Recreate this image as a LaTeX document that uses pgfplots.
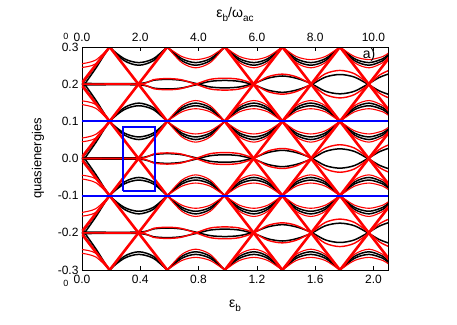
\documentclass[border=0pt]{standalone}
\usepackage{fontspec}
\setmainfont{Liberation Sans}
\usepackage{pgfplots}
\usepackage{pgfplotstable}
\pgfplotsset{compat=1.18}

\newcommand\sub[1]{\raisebox{-0.55ex}{\fontsize{10}{11}\selectfont #1}}

% eye-shaped bands around 0.1 (repeated every 0.2)
\pgfplotstableread{
x     k1     k2
0.0   0.200  0.210
0.095 0.150  0.157
0.19  0.100  0.100
0.29  0.0685 0.0633
0.39  0.058  0.051
0.49  0.0685 0.0633
0.585 0.100  0.100
0.685 0.1315 0.1368
0.78  0.142  0.149
0.88  0.1315 0.1368
0.98  0.100  0.100
1.08  0.0685 0.0633
1.18  0.058  0.051
1.275 0.0685 0.0633
1.375 0.100  0.100
1.47  0.1315 0.1368
1.57  0.142  0.149
1.67  0.1315 0.1368
1.77  0.100  0.100
1.87  0.0685 0.0633
1.97  0.058  0.051
2.065 0.0685 0.0633
2.1   0.0794 0.076
}\eyeblack

\pgfplotstableread{
x     r1     r2
0.0   0.145  0.155
0.095 0.135  0.145
0.19  0.100  0.100
}\eyeredleft

\pgfplotstableread{
x     r1     r2
0.585 0.100  0.100
0.685 0.1255 0.142
0.78  0.134  0.156
0.88  0.1255 0.142
0.98  0.100  0.100
1.08  0.0745 0.058
1.18  0.066  0.044
1.275 0.0745 0.058
1.375 0.100  0.100
1.47  0.1255 0.142
1.57  0.134  0.156
1.67  0.1255 0.142
1.77  0.100  0.100
1.87  0.0745 0.058
1.97  0.066  0.044
2.065 0.0745 0.058
2.1   0.0833 0.0726
}\eyered

% nearly flat bands around 0 (repeated every 0.2)
\pgfplotstableread{
x     f1      f2      g1      g2
0     0.002  -0.002   0       0
0.39  0.002  -0.002   0       0
0.49  0.0105 -0.0105  0.012  -0.012
0.585 0.013  -0.013   0.015  -0.015
0.68  0.0105 -0.0105  0.012  -0.012
0.78  0.002  -0.002   0       0
0.88 -0.0075  0.0075 -0.013   0.013
0.98 -0.010   0.010  -0.016   0.016
1.08 -0.0075  0.0075 -0.013   0.013
1.18  0.002  -0.002   0       0
1.275 0.016  -0.016   0.020  -0.020
1.375 0.022  -0.022   0.027  -0.027
1.47  0.016  -0.016   0.020  -0.020
1.57  0.002  -0.002   0       0
1.67 -0.019   0.019  -0.028   0.028
1.77 -0.026   0.026  -0.037   0.037
1.87 -0.019   0.019  -0.028   0.028
1.97  0.002  -0.002   0       0
2.04  0.018  -0.018   0.024  -0.024
2.1   0.027  -0.027   0.036  -0.036
}\flatband

\tikzset{
  blk/.style={black, line width=1.5pt, smooth},
  rdt/.style={red, line width=1.1pt, smooth},
  rdl/.style={red, line width=2.6pt},
  blu/.style={blue, line width=2pt},
}

\begin{document}
\begin{tikzpicture}
\useasboundingbox (-82pt,-54pt) rectangle (375pt,270pt);
\begin{axis}[
  scale only axis, width=306pt, height=223pt,
  xmin=0, xmax=2.1, ymin=-0.3, ymax=0.3,
  xtick={0,0.4,0.8,1.2,1.6,2.0},
  xticklabels={0.0,0.4,0.8,1.2,1.6,2.0},
  ytick={-0.3,-0.2,-0.1,0,0.1,0.2,0.3},
  yticklabels={-0.3,-0.2,-0.1,0.0,0.1,0.2,0.3},
  xtick pos=left, ytick pos=left,
  tick align=inside, major tick length=4pt,
  tick style={black, line width=0.5pt},
  axis line style={black, line width=0.6pt},
  tick label style={font=\fontsize{12}{14}\selectfont},
  xticklabel style={yshift=-2pt},
  xlabel={ε\sub{b}},
  ylabel={quasienergies},
  xlabel style={at={(axis description cs:0.5,-0.16)}, anchor=center, font=\fontsize{14}{16}\selectfont},
  ylabel style={at={(axis description cs:-0.144,0.5)}, anchor=center, rotate=0, font=\fontsize{13}{15}\selectfont},
]
\pgfplotsinvokeforeach{-2,-1,0,1,2}{
  \addplot[blk] table[x=x, y expr=\thisrow{k1}+0.2*(#1)] {\eyeblack};
  \addplot[blk] table[x=x, y expr=\thisrow{k2}+0.2*(#1)] {\eyeblack};
  \addplot[blk] table[x=x, y expr=-\thisrow{k1}+0.2*(#1)] {\eyeblack};
  \addplot[blk] table[x=x, y expr=-\thisrow{k2}+0.2*(#1)] {\eyeblack};
}
\pgfplotsinvokeforeach{-1,0,1}{
  \addplot[blk] table[x=x, y expr=\thisrow{f1}+0.2*(#1)] {\flatband};
  \addplot[blk] table[x=x, y expr=\thisrow{f2}+0.2*(#1)] {\flatband};
}
\pgfplotsinvokeforeach{-2,-1,0,1,2}{
  \addplot[rdt] table[x=x, y expr=\thisrow{r1}+0.2*(#1)] {\eyeredleft};
  \addplot[rdt] table[x=x, y expr=\thisrow{r2}+0.2*(#1)] {\eyeredleft};
  \addplot[rdt] table[x=x, y expr=-\thisrow{r1}+0.2*(#1)] {\eyeredleft};
  \addplot[rdt] table[x=x, y expr=-\thisrow{r2}+0.2*(#1)] {\eyeredleft};
  \addplot[rdt] table[x=x, y expr=\thisrow{r1}+0.2*(#1)] {\eyered};
  \addplot[rdt] table[x=x, y expr=\thisrow{r2}+0.2*(#1)] {\eyered};
  \addplot[rdt] table[x=x, y expr=-\thisrow{r1}+0.2*(#1)] {\eyered};
  \addplot[rdt] table[x=x, y expr=-\thisrow{r2}+0.2*(#1)] {\eyered};
}
\pgfplotsinvokeforeach{-1,0,1}{
  \addplot[rdt, line width=1.4pt] table[x=x, y expr=\thisrow{g1}+0.2*(#1)] {\flatband};
  \addplot[rdt, line width=1.4pt] table[x=x, y expr=\thisrow{g2}+0.2*(#1)] {\flatband};
}
% straight red crossing lines, left part
\addplot[rdl] coordinates {(0,-0.596)(0.585,-0.3)};
\addplot[rdl] coordinates {(0,-0.396)(0.585,-0.1)};
\addplot[rdl] coordinates {(0,-0.196)(0.585,0.1)};
\addplot[rdl] coordinates {(0,0.004)(0.585,0.3)};
\addplot[rdl] coordinates {(0,0.204)(0.585,0.5)};
\addplot[rdl] coordinates {(0,-0.204)(0.585,-0.5)};
\addplot[rdl] coordinates {(0,-0.004)(0.585,-0.3)};
\addplot[rdl] coordinates {(0,0.196)(0.585,-0.1)};
\addplot[rdl] coordinates {(0,0.396)(0.585,0.1)};
\addplot[rdl] coordinates {(0,0.596)(0.585,0.3)};
% straight red crossing lines, right part
\addplot[rdl] coordinates {(0.98,-0.7)(2.1,-0.133)};
\addplot[rdl] coordinates {(0.98,-0.5)(2.1,0.067)};
\addplot[rdl] coordinates {(0.98,-0.3)(2.1,0.267)};
\addplot[rdl] coordinates {(0.98,-0.1)(2.1,0.467)};
\addplot[rdl] coordinates {(0.98,0.1)(2.1,0.667)};
\addplot[rdl] coordinates {(0.98,-0.1)(2.1,-0.667)};
\addplot[rdl] coordinates {(0.98,0.1)(2.1,-0.467)};
\addplot[rdl] coordinates {(0.98,0.3)(2.1,-0.267)};
\addplot[rdl] coordinates {(0.98,0.5)(2.1,-0.067)};
\addplot[rdl] coordinates {(0.98,0.7)(2.1,0.133)};
% blue markers
\addplot[blu] coordinates {(0,0.1)(2.1,0.1)};
\addplot[blu] coordinates {(0,-0.1)(2.1,-0.1)};
\addplot[blu] coordinates {(0.28,-0.088)(0.5,-0.088)(0.5,0.085)(0.28,0.085)(0.28,-0.088)};
\node[font=\fontsize{14}{16}\selectfont] at (axis cs:1.97,0.279) {a)};
\end{axis}
\begin{axis}[
  scale only axis, width=306pt, height=223pt,
  xmin=0, xmax=10.5, ymin=-0.3, ymax=0.3,
  axis x line*=top, axis y line=none,
  xtick={0,2,4,6,8,10},
  xticklabels={0.0,2.0,4.0,6.0,8.0,10.0},
  tick align=inside, major tick length=4pt,
  tick style={black, line width=0.5pt},
  axis line style={black, line width=0.6pt},
  tick label style={font=\fontsize{12}{14}\selectfont},
  xticklabel style={yshift=2pt},
  xlabel={ε\sub{b}/ω\sub{ac}},
  xlabel style={at={(axis description cs:0.5,1.145)}, anchor=center, font=\fontsize{14}{16}\selectfont},
]
\end{axis}
\node[font=\fontsize{9}{10}\selectfont] at (-16pt,234pt) {0};
\node[font=\fontsize{9}{10}\selectfont] at (-16pt,-13pt) {0};
\end{tikzpicture}
\end{document}
